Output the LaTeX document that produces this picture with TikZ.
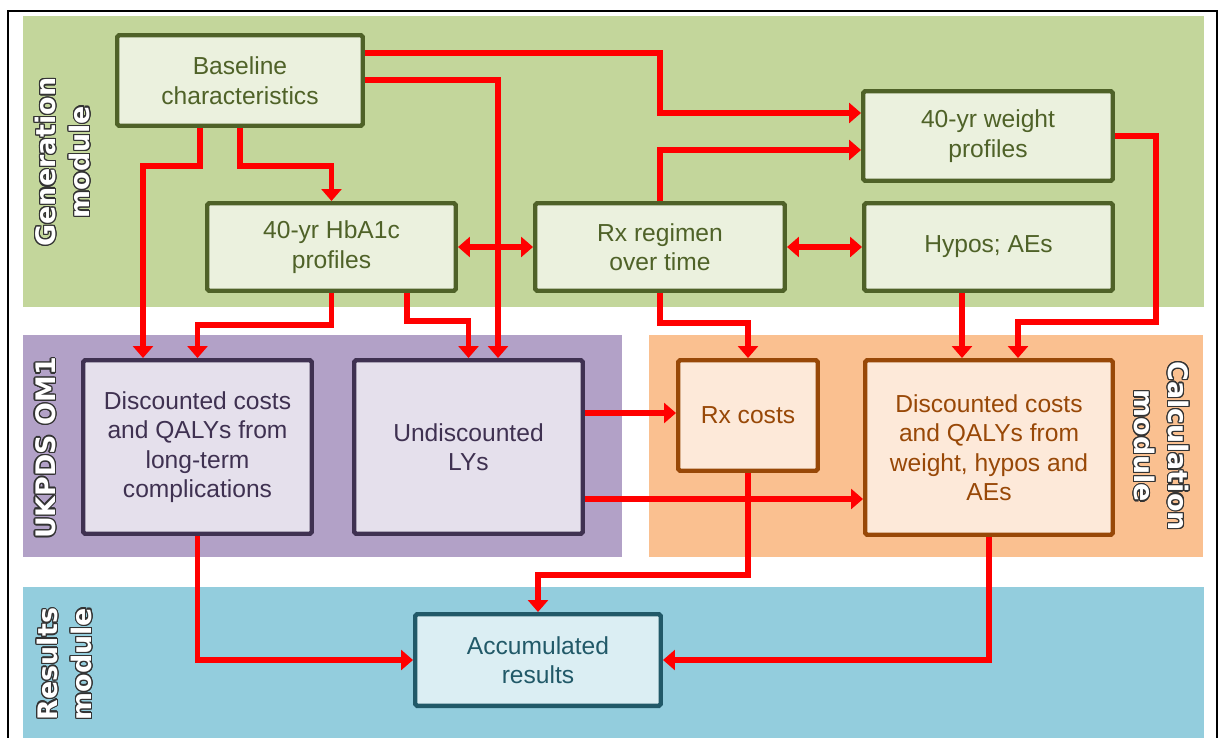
\documentclass[tikz,border=0pt]{standalone}
\usepackage{fontspec}
\setmainfont{Liberation Sans}
\newfontfamily\sidefont{DejaVu Sans}
\usepackage[copies]{contour}
\contourlength{0.7pt}
\usetikzlibrary{arrows.meta}
\definecolor{gband}{HTML}{C3D69B}
\definecolor{gfill}{HTML}{EBF1DE}
\definecolor{gline}{HTML}{4F6228}
\definecolor{pband}{HTML}{B2A1C7}
\definecolor{pfill}{HTML}{E5E0EC}
\definecolor{pline}{HTML}{3F3151}
\definecolor{oband}{HTML}{FAC090}
\definecolor{ofill}{HTML}{FDE9D9}
\definecolor{oline}{HTML}{984807}
\definecolor{bband}{HTML}{93CDDD}
\definecolor{bfill}{HTML}{DBEEF3}
\definecolor{bline}{HTML}{215968}
\newcommand{\sidetxt}[1]{\contour{black!80}{#1}}
\begin{document}
\begin{tikzpicture}[x=0.02cm,y=-0.02cm,
  flow/.style={draw=red,line width=3.4pt,-{Triangle[length=6.8pt,width=11.3pt]}},
  flowboth/.style={draw=red,line width=3.4pt,{Triangle[length=6.8pt,width=11.3pt]}-{Triangle[length=6.8pt,width=11.3pt]}},
  box/.style={rectangle,line width=2.5pt,rounded corners=1pt,align=center,inner sep=2pt,font=\fontsize{14}{16.8}\selectfont},
  gbox/.style={box,draw=gline,fill=gfill,text=gline},
  pbox/.style={box,draw=pline,fill=pfill,text=pline},
  obox/.style={box,draw=oline,fill=ofill,text=oline},
  bbox/.style={box,draw=bline,fill=bfill,text=bline},
  side/.style={inner sep=0pt,align=center,text=white,font=\sidefont\bfseries\fontsize{15.3}{19.5}\selectfont}
]
\useasboundingbox (0,0) rectangle (1219,737);
\clip (0,0) rectangle (1219,737);
\fill[white] (0,0) rectangle (1219,737);
% bands
\fill[gband] (23,16) rectangle (1204,307);
\fill[pband] (23,335) rectangle (622,557);
\fill[oband] (649,335) rectangle (1203,557);
\fill[bband] (23,587) rectangle (1204,760);
% frame
\draw[line width=1.2pt,black] (8,11) rectangle (1217,800);
% side labels
\node[side,rotate=90] (lgen) at (63,162) {\sidetxt{Generation}\\\sidetxt{module}};
\node[side,rotate=90] (lukp) at (46,448) {\sidetxt{UKPDS OM1}};
\node[side,rotate=90] (lres) at (65,664) {\sidetxt{Results}\\\sidetxt{module}};
\node[side,rotate=-90] (lcal) at (1161,446) {\sidetxt{Calculation}\\\sidetxt{module}};
% boxes
\node[gbox,minimum width=4.912cm,minimum height=1.812cm] (base) at (240,80.5) {Baseline\\characteristics};
\node[gbox,minimum width=4.972cm,minimum height=1.752cm] (hba) at (331.5,247) {40-yr HbA1c\\profiles};
\node[gbox,minimum width=4.992cm,minimum height=1.752cm] (rxreg) at (660,247) {Rx regimen\\over time};
\node[gbox,minimum width=4.992cm,minimum height=1.792cm] (weight) at (988,136) {40-yr weight\\profiles};
\node[gbox,minimum width=4.972cm,minimum height=1.752cm] (hypos) at (988.5,247) {Hypos; AEs};
\node[pbox,minimum width=4.572cm,minimum height=3.472cm] (pdisc) at (197.5,447) {Discounted costs\\and QALYs from\\long-term\\complications};
\node[pbox,minimum width=4.572cm,minimum height=3.472cm] (undisc) at (468.5,447) {Undiscounted\\LYs};
\node[obox,minimum width=2.792cm,minimum height=2.212cm] (rxcost) at (748,415.5) {Rx costs};
\node[obox,minimum width=4.952cm,minimum height=3.492cm] (odisc) at (989,447.5) {Discounted costs\\and QALYs from\\weight, hypos and\\AEs};
\node[bbox,minimum width=4.912cm,minimum height=1.832cm] (accum) at (538,660) {Accumulated\\results};
% waypoints
\coordinate (w1) at (660,53);
\coordinate (w2) at (660,113);
\coordinate (u1) at (498,80);
\coordinate (b1) at (200,166);
\coordinate (b2) at (143,166);
\coordinate (b3) at (331.5,166);
\coordinate (h1) at (197.5,325);
\coordinate (h2) at (407,321);
\coordinate (r1) at (660,150);
\coordinate (r2) at (748,323);
\coordinate (y1) at (962,300);
\coordinate (g1) at (1156,322);
\coordinate (g2) at (1018,322);
\coordinate (q1) at (600,413);
\coordinate (q2) at (600,499);
\coordinate (a1) at (538,575);
% connectors
\draw[flow] (base.east |- w1) -| (w2) -- (weight.west |- w2);
\draw[flow] (base.east |- u1) -| (undisc.north -| u1);
\draw[flow] (base.south -| b1) |- (b2) -- (pdisc.north -| b2);
\draw[flow] (base.south) |- (b3) -- (hba.north);
\draw[flow] (hba.south) |- (h1) -- (pdisc.north);
\draw[flow] (hba.south -| h2) |- (undisc.north |- h2) -- (undisc.north);
\draw[flowboth] (hba.east) -- (rxreg.west);
\draw[flowboth] (rxreg.east) -- (hypos.west);
\draw[flow] (rxreg.north) -- (r1) -- (weight.west |- r1);
\draw[flow] (rxreg.south) |- (r2) -- (rxcost.north);
\draw[flow] (hypos.south -| y1) -- (odisc.north -| y1);
\draw[flow] (weight.east) -| (g1) -- (g2) -- (odisc.north -| g2);
\draw[flow] (undisc.east |- q1) -- (rxcost.west |- q1);
\draw[flow] (undisc.east |- q2) -- (odisc.west |- q2);
\draw[flow] (rxcost.south) |- (a1) -- (accum.north);
\draw[flow] (pdisc.south) |- (accum.west);
\draw[flow] (odisc.south) |- (accum.east);
\end{tikzpicture}
\end{document}
